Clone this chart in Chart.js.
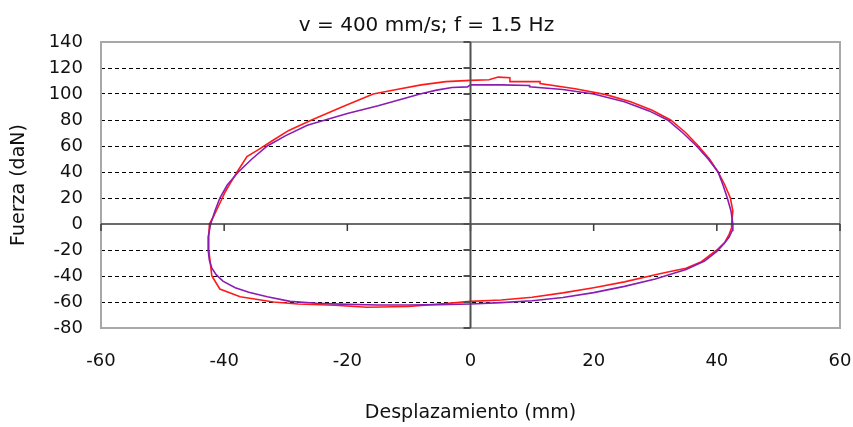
<!DOCTYPE html>
<html>
<head>
<meta charset="utf-8">
<script src="https://cdn.jsdelivr.net/npm/chart.js@4"></script>
<style>
    body { margin: 0; background: #fff; }
</style>
</head>
<body>
<canvas id="loop" width="853" height="427"></canvas>
<script>
const xTicks = [-60, -40, -20, 0, 20, 40, 60];
const yTicks = [-80, -60, -40, -20, 0, 20, 40, 60, 80, 100, 120, 140];

// purple loop
const purpleX = [42.6, 42.3, 41.7, 41.0, 40.2, 38.6, 36.7, 34.5, 32.0, 29.0, 25.0, 20.0, 15.0, 9.6, 9.6, 5.0, 0.0, -0.5, -3.0, -5.5,
    -8.2, -10.5, -15.0, -20.0, -23.6, -26.5, -30.0, -33.0, -35.5, -37.7, -39.5, -40.7, -41.5, -42.2, -42.6, -42.6, -42.4, -42.0,
    -41.3, -40.2, -38.2, -36.0, -33.0, -29.3, -25.0, -20.0, -15.0, -10.0, -5.0, 0.0, 5.0, 10.0, 15.0, 20.0, 25.0, 30.0, 35.0, 38.0,
    40.0, 41.2, 42.0, 42.5, 42.6];
const purpleY = [0, 10, 20, 30, 40, 50, 60, 70, 80, 87, 94, 100, 103.5, 105.6, 106.5, 107, 107, 105.5, 105, 103,
    100, 97, 91, 85, 80, 76, 68, 60, 50, 40, 30, 20, 10, 0, -10, -20, -28, -34,
    -39, -44, -49, -52.5, -56, -59.5, -61, -61.8, -62.3, -62.3, -62, -61.5, -60.5, -59, -56.5, -52.8, -48, -42.3, -35, -28.5,
    -21, -15, -10, -5, 0];

// red loop
const redX = [42.4, 42.6, 42.2, 41.3, 40.2, 38.8, 37.0, 35.0, 32.5, 29.5, 26.0, 22.0, 17.0, 11.3, 11.3, 6.4, 6.4, 4.5, 3.0, 0.0,
    -4.0, -8.0, -12.0, -15.8, -20.6, -25.8, -29.5, -32.0, -34.5, -36.3, -37.9, -38.8, -39.8, -40.8, -41.8, -42.4, -42.5, -42.5,
    -42.3, -42.0, -40.7, -37.4, -32.0, -28.0, -22.0, -16.8, -10.0, -5.0, 0.0, 5.0, 10.0, 15.0, 20.0, 25.0, 30.0, 33.0, 35.0,
    37.5, 40.0, 41.3, 42.0, 42.4, 42.4];
const redY = [0, 10, 20, 30, 40, 50, 60, 70, 80, 87.5, 94, 99.5, 104, 108, 109.5, 109.5, 112.5, 113, 111, 110.5,
    109.5, 107, 103.5, 100, 90.5, 80, 72, 64.6, 57, 51.8, 40, 33, 25, 15, 5, 0, -10, -20,
    -28, -40, -50, -55.9, -60, -61.5, -62.5, -64, -63.5, -61.5, -59.5, -58.5, -56.4, -53, -49, -44.5, -39, -36, -34,
    -29, -20, -14, -8, -3, 0];

function toPoints(xs, ys) {
    return xs.map((x, i) => ({ x: x, y: ys[i] }));
}

const FONT = 'DejaVu Sans';

// border, zero axes and their tick marks
const axesPlugin = {
    id: 'axes',
    afterDatasetsDraw(chart) {
        const ctx = chart.ctx;
        const a = chart.chartArea;
        const xs = chart.scales.x;
        const ys = chart.scales.y;
        const x0 = xs.getPixelForValue(0);
        const y0 = ys.getPixelForValue(0);
        function line(x1, y1, x2, y2) {
            ctx.beginPath();
            ctx.moveTo(x1, y1);
            ctx.lineTo(x2, y2);
            ctx.stroke();
        }
        ctx.save();
        ctx.strokeStyle = '#a8a8a8';
        ctx.lineWidth = 2;
        ctx.strokeRect(a.left, a.top, a.right - a.left, a.bottom - a.top);

        ctx.strokeStyle = '#3a3a3a';
        ctx.lineWidth = 1.5;
        line(a.left, y0, a.right, y0);
        xTicks.forEach(v => {
            const px = xs.getPixelForValue(v);
            line(px, y0, px, y0 + 7);
        });

        ctx.strokeStyle = '#505050';
        ctx.lineWidth = 2;
        line(x0, a.top, x0, a.bottom);
        yTicks.forEach(v => {
            const py = ys.getPixelForValue(v);
            line(x0 - 7, py, x0, py);
        });
        ctx.restore();
    }
};

const myChart = new Chart(document.getElementById('loop'), {
    type: 'scatter',
    data: {
        datasets: [{
            data: toPoints(purpleX, purpleY),
            borderColor: '#8a1cb4',
            borderWidth: 1.6,
            showLine: true,
            pointRadius: 0,
            order: 1
        }, {
            data: toPoints(redX, redY),
            borderColor: '#ff1a1a',
            borderWidth: 1.6,
            showLine: true,
            pointRadius: 0,
            order: 2
        }]
    },
    options: {
        responsive: false,
        animation: false,
        layout: { padding: 0 },
        plugins: {
            legend: { display: false },
            tooltip: { enabled: false },
            title: {
                display: true,
                text: 'v = 400 mm/s; f = 1.5 Hz',
                color: '#111',
                font: { family: FONT, size: 20, weight: 'normal' },
                padding: { top: 13.5, bottom: 4.5 }
            }
        },
        scales: {
            x: {
                type: 'linear',
                position: 'bottom',
                min: -60,
                max: 60,
                afterBuildTicks: s => { s.ticks = xTicks.map(v => ({ value: v })); },
                afterFit: s => { s.height = 99; },
                // ticks are hidden, their length only pushes the labels down
                grid: { display: false, drawTicks: true, tickLength: 22 },
                border: { display: false },
                ticks: { color: '#111', padding: 1, font: { family: FONT, size: 18 } },
                title: {
                    display: true,
                    text: 'Desplazamiento (mm)',
                    color: '#111',
                    font: { family: FONT, size: 19 },
                    padding: { top: 0, bottom: 3 }
                }
            },
            y: {
                type: 'linear',
                position: 'left',
                min: -80,
                max: 140,
                afterBuildTicks: s => { s.ticks = yTicks.map(v => ({ value: v })); },
                afterFit: s => { s.width = 101; },
                grid: {
                    drawTicks: false,
                    lineWidth: 1,
                    color: c => {
                        const v = c.tick ? c.tick.value : 0;
                        return (v === 0 || v === 140 || v === -80) ? 'rgba(0,0,0,0)' : '#000';
                    }
                },
                border: { display: false, dash: [4, 3] },
                ticks: { color: '#111', padding: 18, font: { family: FONT, size: 18 } },
                title: {
                    display: true,
                    text: 'Fuerza (daN)',
                    color: '#111',
                    font: { family: FONT, size: 19 },
                    padding: { top: 8, bottom: 0 }
                }
            },
            y2: {
                type: 'linear',
                position: 'right',
                min: -80,
                max: 140,
                afterFit: s => { s.width = 13; },
                grid: { display: false, drawTicks: false },
                border: { display: false },
                ticks: { display: false }
            }
        }
    },
    plugins: [axesPlugin]
});
</script>
</body>
</html>
